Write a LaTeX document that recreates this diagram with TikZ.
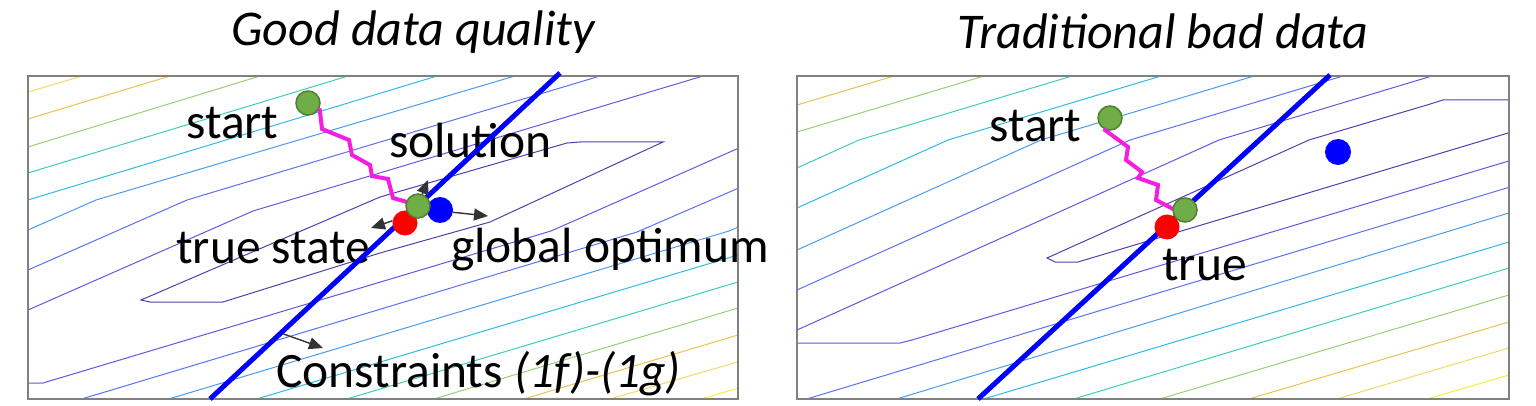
\documentclass[tikz,border=0pt]{standalone}
\usepackage{fontspec}
\setmainfont{Carlito}
\usetikzlibrary{arrows.meta}
\definecolor{c1}{HTML}{5040AE}
\definecolor{c2}{HTML}{6058E0}
\definecolor{c3}{HTML}{5A72F2}
\definecolor{c4}{HTML}{4A9CF2}
\definecolor{c5}{HTML}{30BAE6}
\definecolor{c6}{HTML}{40CDB8}
\definecolor{c7}{HTML}{96D078}
\definecolor{c8}{HTML}{EAC24E}
\definecolor{c9}{HTML}{F6D860}
\definecolor{c10}{HTML}{F4F03A}
\definecolor{gfill}{HTML}{70AD47}
\definecolor{gdraw}{HTML}{507E32}
\definecolor{zigc}{HTML}{F41EE0}
\definecolor{frame}{HTML}{808080}
\begin{document}
\begin{tikzpicture}[x=1pt,y=-1pt,
  k1/.style={draw=c1,line width=1pt},
  k2/.style={draw=c2,line width=1pt},
  k3/.style={draw=c3,line width=1pt},
  k4/.style={draw=c4,line width=1pt},
  k5/.style={draw=c5,line width=1pt},
  k6/.style={draw=c6,line width=1pt},
  k7/.style={draw=c7,line width=1pt},
  k8/.style={draw=c8,line width=1pt},
  k9/.style={draw=c9,line width=1pt},
  k10/.style={draw=c10,line width=1pt},
  panel/.style={draw=frame,line width=1.5pt},
  cons/.style={draw={rgb,255:red,0;green,0;blue,255},line width=5pt},
  zig/.style={draw=zigc,line width=4pt,line join=miter},
  gdot/.style={circle,fill=gfill,draw=gdraw,line width=1.5pt,minimum size=24pt,inner sep=0pt},
  rdot/.style={circle,fill={rgb,255:red,255;green,0;blue,0},minimum size=25pt,inner sep=0pt},
  bdot/.style={circle,fill={rgb,255:red,0;green,0;blue,255},minimum size=26pt,inner sep=0pt},
  arr/.style={draw=black!80,line width=1.4pt,-{Triangle[length=14pt,width=12pt]}},
  lbl/.style={font=\fontsize{49.5}{58}\selectfont,inner sep=0pt,anchor=base west},
  ttl/.style={font=\fontsize{50}{60}\selectfont\itshape,inner sep=0pt,anchor=base}]
\useasboundingbox (0,0) rectangle (1536,406);

% ---------------- left panel contours ----------------
\begin{scope}
\clip (28,76) rectangle (738,399);
\draw[k9] (18,95) -- (92,73);
\draw[k8] (18,122) -- (180,73);
\draw[k7] (18,150) -- (270,73);
\draw[k6] (18,176) -- (358,73);
\draw[k5] (18,203) -- (447,73);
\draw[k4] (18,234.4) -- (96,200) -- (525,73);
\draw[k3] (18,274.4) -- (187,200) -- (610,73);
\draw[k2] (18,314.4) -- (253,211) -- (713,73);
\draw[k1] (141,300) -- (380,197) -- (567,143) -- (580,142) -- (663,142) -- (490,222) -- (380,253) -- (223,302) -- (150,302) -- cycle;
\draw[k2] (18,383) -- (43,383) -- (551,231) -- (748,144);
\draw[k3] (75,401) -- (637,232) -- (748,184);
\draw[k4] (162,401) -- (729,231) -- (748,223);
\draw[k5] (250,401) -- (748,252);
\draw[k6] (340,401) -- (748,279);
\draw[k7] (427,401) -- (748,305);
\draw[k8] (517,401) -- (748,332);
\draw[k9] (603,401) -- (748,359);
\draw[k10] (695,401) -- (748,385);
\end{scope}
\draw[panel] (28,76) rectangle (738,399);

% ---------------- right panel contours ----------------
\begin{scope}
\clip (797,76) rectangle (1509,399);
\draw[k8] (787,108) -- (904,73);
\draw[k7] (787,135) -- (994,73);
\draw[k6] (787,172.5) -- (859,140) -- (1082,73);
\draw[k5] (787,212.5) -- (948,140) -- (1171,73);
\draw[k4] (787,254.5) -- (1041,140) -- (1264,73);
\draw[k3] (787,294.5) -- (1130,140) -- (1353,73);
\draw[k2] (787,334.5) -- (1219,140) -- (1442,73);
\draw[k1] (1520,100) -- (1443,100) -- (1427,105) -- (1309,140) -- (1047,258) -- (1055,262) -- (1078,262) -- (1520,129.4);
\draw[k2] (787,343) -- (900,343) -- (912,340) -- (1520,157.6);
\draw[k3] (800,401) -- (1520,184);
\draw[k4] (890,401) -- (1520,209.6);
\draw[k5] (977,401) -- (1520,238.7);
\draw[k6] (1067,401) -- (1520,264.7);
\draw[k7] (1153,401) -- (1520,291.7);
\draw[k8] (1242,401) -- (1520,318.7);
\draw[k9] (1330,401) -- (1520,344.7);
\draw[k10] (1420,401) -- (1520,371.8);
\end{scope}
\draw[panel] (797,76) rectangle (1509,399);

% ---------------- titles and labels ----------------
\node[ttl] (title1) at (413,46) {Good data quality};
\node[ttl] (title2) at (1163,49) {Traditional bad data};
\node[lbl] (lstart1) at (186,139) {start};
\node[lbl] (lsol1) at (389,158) {solution};
\node[lbl] (ltrue1) at (176,263) {true state};
\node[lbl] (lopt1) at (451,262) {global optimum};
\node[lbl] (lcons1) at (276,387) {Constraints \textit{(1f)-(1g)}};
\node[lbl] (lstart2) at (989,142) {start};
\node[lbl] (ltrue2) at (1162,280) {true};

% ---------------- constraint lines ----------------
\coordinate (cb1) at (210,399);
\coordinate (ct1) at (560,73);
\coordinate (cb2) at (978,399);
\coordinate (ct2) at (1330,75);
\draw[cons] (cb1) -- (ct1) coordinate[pos=0.2] (cmid1);
\draw[cons] (cb2) -- (ct2);

% ---------------- points ----------------
\node[rdot] (true1) at (405,223) {};
\node[bdot] (opt1) at (440,210) {};
\node[gdot] (start1) at (308,103) {};
\node[rdot] (true2) at (1167,227) {};
\node[bdot] (opt2) at (1338,152) {};
\node[gdot] (start2) at (1110,118) {};

% ---------------- zigzag paths ----------------
\draw[zig] (start1.-25) -- (322,129) -- (349,140) -- (352,155) -- (370,165) -- (372,176) -- (388,179) -- (393,198) -- (407,202);
\draw[zig] (start2.-120) -- (1128,147) -- (1126,160) -- (1142,172) -- (1138,178) -- (1158,185) -- (1156,200) -- (1175,210);
\node[gdot] (sol1) at (418,206) {};
\node[gdot] (sol2) at (1185,210) {};

% ---------------- arrows ----------------
\coordinate (solTip) at (428,180);
\coordinate (optTip) at (488,216);
\coordinate (trueTip) at (371,228);
\coordinate (conTip) at (323,348);
\draw[arr] (sol1.70) -- (solTip);
\draw[arr] (opt1.-10) -- (optTip);
\draw[arr] (true1.170) -- (trueTip);
\draw[arr] ([xshift=3pt]cmid1) -- (conTip);
\end{tikzpicture}
\end{document}
